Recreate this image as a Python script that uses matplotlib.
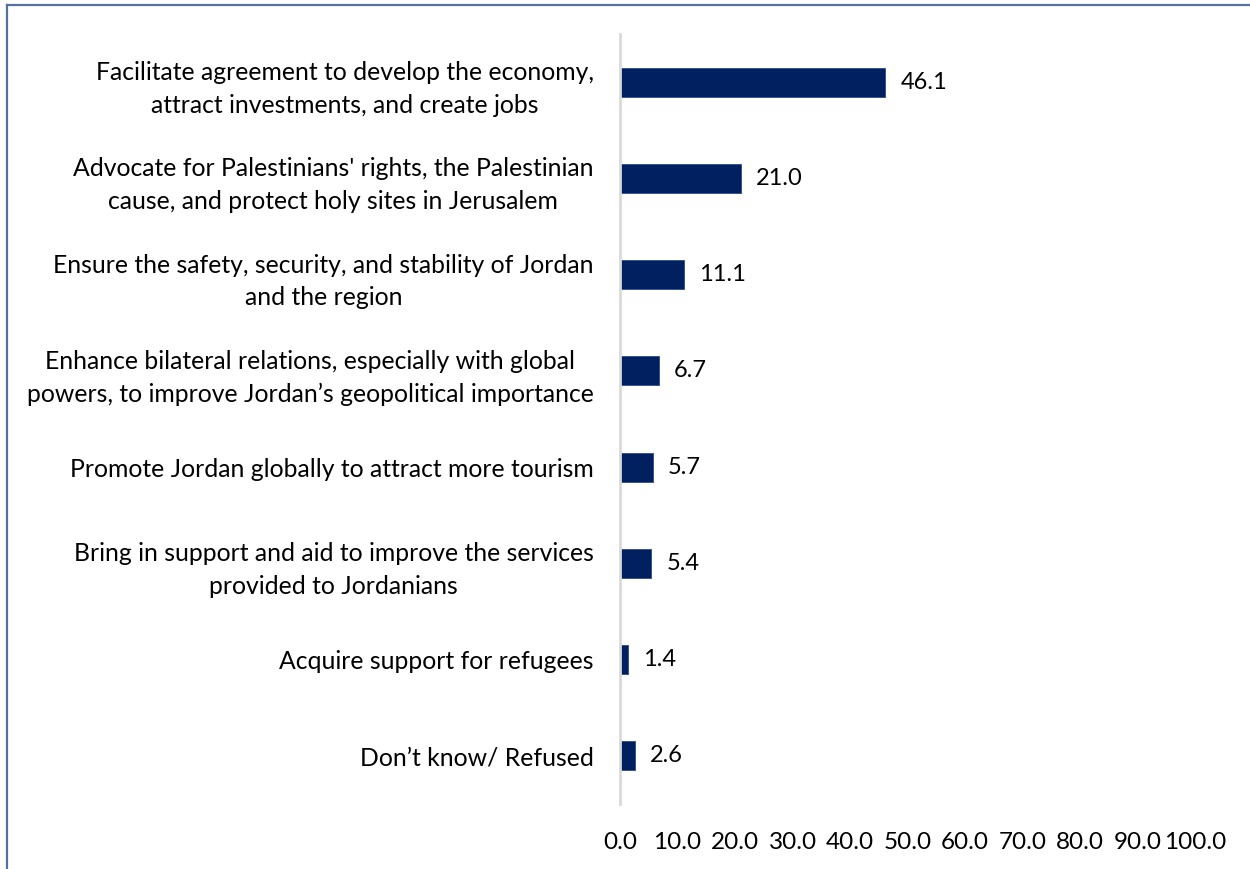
import matplotlib
matplotlib.use("Agg")
import matplotlib.pyplot as plt
from matplotlib.lines import Line2D

categories = [
    "Facilitate agreement to develop the economy,\nattract investments, and create jobs",
    "Advocate for Palestinians' rights, the Palestinian\ncause, and protect holy sites in Jerusalem",
    "Ensure the safety, security, and stability of Jordan\nand the region",
    "Enhance bilateral relations, especially with global\npowers, to improve Jordan\u2019s geopolitical importance",
    "Promote Jordan globally to attract more tourism",
    "Bring in support and aid to improve the services\nprovided to Jordanians",
    "Acquire support for refugees",
    "Don\u2019t know/ Refused",
]
values = [46.1, 21.0, 11.1, 6.7, 5.7, 5.4, 1.4, 2.6]
x_ticks = [0, 10, 20, 30, 40, 50, 60, 70, 80, 90, 100]

plt.rcParams["font.family"] = ["Lato", "DejaVu Sans"]

fig = plt.figure(figsize=(12.5, 8.69), dpi=100)
ax = fig.add_axes([0.496, 0.0748, 0.46, 0.886])

n = len(categories)
ypos = list(range(n))
ax.barh(ypos, values, height=0.3, color="#002060", edgecolor="#2a4a8a", linewidth=0.6)
ax.set_ylim(n - 0.5, -0.5)
ax.set_xlim(0, 100)

ax.set_yticks(ypos)
ax.set_yticklabels(categories, fontsize=17.8, ha="right", multialignment="center",
                   linespacing=1.5)
ax.tick_params(axis="y", length=0, pad=19)

ax.set_xticks(x_ticks)
ax.set_xticklabels([f"{t:.1f}" for t in x_ticks], fontsize=17.5)
ax.tick_params(axis="x", length=0, pad=20)

for s in ["top", "right", "bottom"]:
    ax.spines[s].set_visible(False)
ax.spines["left"].set_color("#d9d9d9")
ax.spines["left"].set_linewidth(2)

for y, v in zip(ypos, values):
    ax.annotate(f"{v:.1f}", xy=(v, y), xytext=(11, 0), textcoords="offset points",
                va="center", ha="left", fontsize=17, color="black")

# outer frame: left and top edges
fig.add_artist(Line2D([7 / 1250, 7 / 1250], [0, 1 - 5 / 869], transform=fig.transFigure,
                      color="#56709f", linewidth=1.6))
fig.add_artist(Line2D([7 / 1250, 1249 / 1250], [1 - 5 / 869, 1 - 5 / 869], transform=fig.transFigure,
                      color="#56709f", linewidth=1.6))

fig.savefig("out.png", dpi=100)
